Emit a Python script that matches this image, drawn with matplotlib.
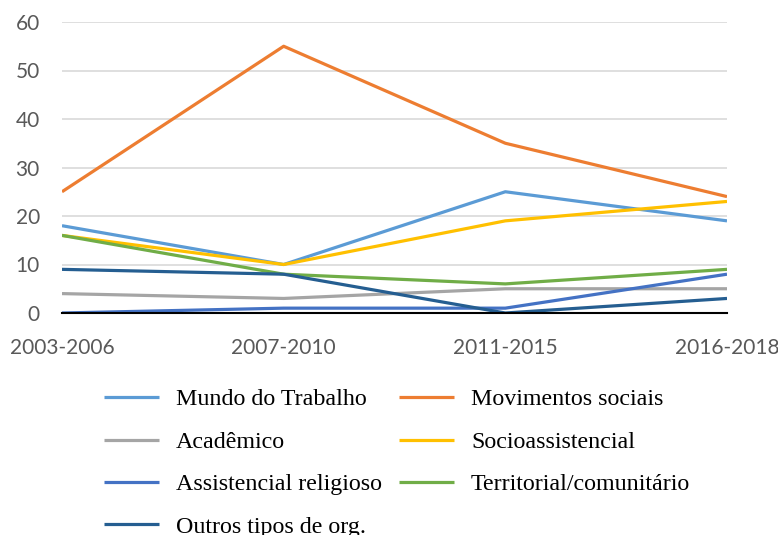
import matplotlib.pyplot as plt

periodos = ["2003-2006", "2007-2010", "2011-2015", "2016-2018"]
nomes = ["Mundo do Trabalho", "Movimentos sociais", "Acadêmico", "Socioassistencial",
         "Assistencial religioso", "Territorial/comunitário", "Outros tipos de org."]
mundo = [18, 10, 25, 19]
movimentos = [25, 55, 35, 24]
academico = [4, 3, 5, 5]
socio = [16, 10, 19, 23]
religioso = [0, 1, 1, 8]
territorial = [16, 8, 6, 9]
outros = [9, 8, 0, 3]
series = [mundo, movimentos, academico, socio, religioso, territorial, outros]
cores = ["#5B9BD5", "#ED7D31", "#A5A5A5", "#FFC000", "#4472C4", "#70AD47", "#255E91"]

fig = plt.figure(figsize=(7.78, 5.35), dpi=100)
ax = fig.add_axes([62 / 778, 1 - 313 / 535, 665 / 778, 291 / 535])

x = range(len(periodos))
linhas = []
for vals, nome, cor in zip(series, nomes, cores):
    l, = ax.plot(x, vals, color=cor, lw=2.3, label=nome, solid_capstyle="butt")
    linhas.append(l)

ax.set_xlim(0, 3)
ax.set_ylim(0, 60)
ax.set_yticks(range(0, 61, 10))
ax.set_xticks(list(x))
ax.set_xticklabels(periodos)
ax.grid(axis="y", color="#D9D9D9", lw=1.2)
ax.set_axisbelow(True)
for s in ["top", "right", "left"]:
    ax.spines[s].set_visible(False)
ax.spines["bottom"].set_color("black")
ax.spines["bottom"].set_linewidth(1.5)
ax.spines["bottom"].set_zorder(5)
ax.tick_params(length=0, labelsize=15, labelcolor="#595959")
ax.tick_params(axis="x", pad=18)
ax.tick_params(axis="y", pad=16)
for lab in ax.get_xticklabels() + ax.get_yticklabels():
    lab.set_family("Lato")

# legenda em ordem de linha (2 colunas)
ordem = [0, 2, 4, 6, 1, 3, 5]
leg = fig.legend([linhas[i] for i in ordem], [nomes[i] for i in ordem],
                 loc="upper left", bbox_to_anchor=(82 / 778, 1 - 367 / 535), ncol=2,
                 frameon=False, prop={"family": "Liberation Serif", "size": 17.3},
                 handlelength=2.3, handletextpad=0.7, columnspacing=0.72,
                 labelspacing=0.86)

fig.savefig("out.png", dpi=100)
